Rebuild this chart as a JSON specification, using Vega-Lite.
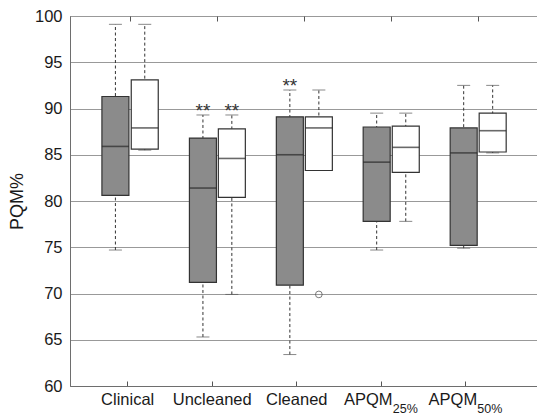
{
  "$schema": "https://vega.github.io/schema/vega-lite/v6.json",
  "width": 467,
  "height": 370,
  "autosize": {"type": "none"},
  "padding": {"left": 70, "top": 16, "right": 0, "bottom": 30},
  "background": "white",
  "config": {"font": "Liberation Sans", "view": {"stroke": "#6e6e6e", "strokeWidth": 1}},
  "datasets": {
    "boxes": [
      {"cat": "Clinical", "group": "A", "pos": 0.861, "lo": 74.7, "q1": 80.6, "med": 85.9, "q3": 91.3, "hi": 99.1, "star": false, "out": null},
      {"cat": "Clinical", "group": "B", "pos": 1.208, "lo": 85.5, "q1": 85.6, "med": 87.9, "q3": 93.1, "hi": 99.1, "star": false, "out": null},
      {"cat": "Uncleaned", "group": "A", "pos": 1.896, "lo": 65.3, "q1": 71.2, "med": 81.4, "q3": 86.8, "hi": 89.3, "star": true, "out": null},
      {"cat": "Uncleaned", "group": "B", "pos": 2.238, "lo": 69.9, "q1": 80.4, "med": 84.6, "q3": 87.8, "hi": 89.3, "star": true, "out": null},
      {"cat": "Cleaned", "group": "A", "pos": 2.924, "lo": 63.4, "q1": 70.9, "med": 85.0, "q3": 89.1, "hi": 92.0, "star": true, "out": null},
      {"cat": "Cleaned", "group": "B", "pos": 3.267, "lo": 83.3, "q1": 83.3, "med": 87.9, "q3": 89.1, "hi": 92.0, "star": false, "out": 69.9},
      {"cat": "APQM25%", "group": "A", "pos": 3.951, "lo": 74.7, "q1": 77.8, "med": 84.2, "q3": 88.0, "hi": 89.5, "star": false, "out": null},
      {"cat": "APQM25%", "group": "B", "pos": 4.295, "lo": 77.8, "q1": 83.1, "med": 85.8, "q3": 88.1, "hi": 89.5, "star": false, "out": null},
      {"cat": "APQM50%", "group": "A", "pos": 4.980, "lo": 74.9, "q1": 75.2, "med": 85.2, "q3": 87.9, "hi": 92.5, "star": false, "out": null},
      {"cat": "APQM50%", "group": "B", "pos": 5.323, "lo": 85.2, "q1": 85.3, "med": 87.6, "q3": 89.5, "hi": 92.5, "star": false, "out": null}
    ],
    "subs": [
      {"pos": 4, "sub": "25%"},
      {"pos": 5, "sub": "50%"}
    ]
  },
  "data": {"name": "boxes"},
  "resolve": {"axis": {"x": "independent"}},
  "layer": [
    {
      "mark": {"type": "rule", "strokeDash": [3, 2.5], "color": "#333333", "strokeWidth": 1},
      "encoding": {
        "x": {
          "field": "pos", "type": "quantitative",
          "scale": {"domain": [0.383, 5.788], "nice": false, "zero": false},
          "axis": {
            "orient": "bottom", "values": [1, 2, 3, 4, 5],
            "labelExpr": "['', 'Clinical', 'Uncleaned', 'Cleaned', 'APQM', 'APQM'][datum.value]",
            "title": null, "grid": false, "domainColor": "#6e6e6e", "tickColor": "#555555",
            "tickSize": -5, "labelFontSize": 16.5, "labelColor": "#1a1a1a", "labelPadding": 10,
            "labelOverlap": false, "labelFlush": false, "labelBound": false,
            "labelOffset": {"condition": {"test": "datum.value >= 4", "value": -13}, "value": 0}
          }
        },
        "y": {
          "field": "lo", "type": "quantitative",
          "scale": {"domain": [60, 100], "nice": false, "zero": false},
          "axis": {
            "values": [60, 65, 70, 75, 80, 85, 90, 95, 100],
            "title": "PQM%", "titleFontSize": 18, "titleFontWeight": "normal", "titleColor": "#1a1a1a",
            "titlePadding": 8, "grid": true, "gridColor": "#999999", "gridWidth": 1, "ticks": false,
            "labelFontSize": 16.5, "labelPadding": 8, "labelColor": "#1a1a1a", "domainColor": "#6e6e6e"
          }
        },
        "y2": {"field": "hi"}
      }
    },
    {
      "mark": {"type": "tick", "orient": "horizontal", "size": 13, "thickness": 1, "color": "#555555"},
      "encoding": {
        "x": {"field": "pos", "type": "quantitative", "axis": null},
        "y": {"field": "lo", "type": "quantitative"}
      }
    },
    {
      "mark": {"type": "tick", "orient": "horizontal", "size": 13, "thickness": 1, "color": "#555555"},
      "encoding": {
        "x": {"field": "pos", "type": "quantitative", "axis": null},
        "y": {"field": "hi", "type": "quantitative"}
      }
    },
    {
      "mark": {"type": "bar", "width": 27, "stroke": "#333333", "strokeWidth": 1.2},
      "encoding": {
        "x": {
          "field": "pos", "type": "quantitative",
          "axis": {"orient": "top", "values": [1.039, 2.061, 3.091, 4.125, 5.148], "labels": false,
                   "tickSize": -5, "domain": false, "title": null, "grid": false, "tickColor": "#555555"}
        },
        "y": {"field": "q1", "type": "quantitative"},
        "y2": {"field": "q3"},
        "fill": {"field": "group", "type": "nominal", "scale": {"domain": ["A", "B"], "range": ["#8b8b8b", "#ffffff"]}, "legend": null}
      }
    },
    {
      "mark": {"type": "tick", "orient": "horizontal", "size": 27, "thickness": 1.6, "color": "#2a2a2a"},
      "encoding": {
        "x": {"field": "pos", "type": "quantitative", "axis": null},
        "y": {"field": "med", "type": "quantitative"}
      }
    },
    {
      "transform": [{"filter": "datum.star"}],
      "mark": {"type": "text", "text": "**", "fontSize": 19, "baseline": "alphabetic", "align": "center", "dy": 2, "color": "#333333"},
      "encoding": {
        "x": {"field": "pos", "type": "quantitative", "axis": null},
        "y": {"field": "hi", "type": "quantitative"}
      }
    },
    {
      "mark": {"type": "point", "filled": false, "size": 45, "stroke": "#444444", "strokeWidth": 1},
      "encoding": {
        "x": {"field": "pos", "type": "quantitative", "axis": null},
        "y": {"field": "out", "type": "quantitative"}
      }
    },
    {
      "data": {"name": "subs"},
      "mark": {"type": "text", "align": "left", "baseline": "alphabetic", "dx": 12, "dy": 27, "fontSize": 12.5, "color": "#1a1a1a"},
      "encoding": {
        "x": {"field": "pos", "type": "quantitative", "axis": null},
        "y": {"datum": 60, "type": "quantitative"},
        "text": {"field": "sub"}
      }
    }
  ]
}
